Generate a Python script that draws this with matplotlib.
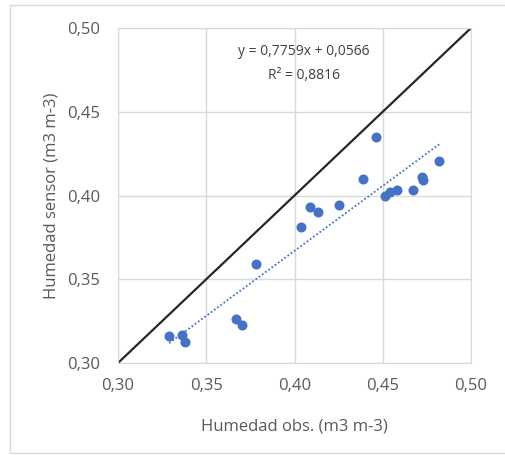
import numpy as np
import matplotlib.pyplot as plt
from matplotlib.patches import Rectangle
from matplotlib.ticker import FuncFormatter

# Observed vs sensor soil moisture (m3 m-3)
hum_obs = [0.329, 0.336, 0.338, 0.367, 0.370, 0.378, 0.4035, 0.409, 0.4135,
           0.425, 0.439, 0.446, 0.451, 0.454, 0.458, 0.467, 0.472, 0.473, 0.482]
hum_sensor = [0.316, 0.317, 0.3125, 0.326, 0.3225, 0.359, 0.381, 0.393, 0.390,
              0.3945, 0.410, 0.435, 0.400, 0.402, 0.403, 0.403, 0.411, 0.409, 0.4205]

# Trend line coefficients shown on the chart
slope = 0.7759
intercept = 0.0566
r2 = 0.8816

ticks = [0.30, 0.35, 0.40, 0.45, 0.50]

plt.rcParams['font.family'] = ['Open Sans', 'DejaVu Sans']

fig = plt.figure(figsize=(5.05, 4.55), dpi=100)
ax = fig.add_axes([118 / 505, 1 - 363 / 455, 353 / 505, 335 / 455])

# light frame around the chart (right edge runs off the picture)
fig.patches.append(Rectangle((10 / 505, 2 / 455), 510 / 505, 448 / 455,
                             transform=fig.transFigure, fill=False,
                             edgecolor='#d9d9d9', linewidth=1))

grid_col = '#d9d9d9'
text_col = '#595959'

ax.set_xlim(0.30, 0.50)
ax.set_ylim(0.30, 0.50)
ax.set_xticks(ticks)
ax.set_yticks(ticks)
fmt = FuncFormatter(lambda v, p: f"{v:.2f}".replace('.', ','))
ax.xaxis.set_major_formatter(fmt)
ax.yaxis.set_major_formatter(fmt)
ax.grid(True, color=grid_col, linewidth=1)
ax.set_axisbelow(True)
for s in ax.spines.values():
    s.set_color(grid_col)
ax.tick_params(axis='y', length=0, labelsize=12, colors=text_col, pad=13)
ax.tick_params(axis='x', length=0, labelsize=12, colors=text_col, pad=11)

# 1:1 line
ax.plot([0.30, 0.50], [0.30, 0.50], color='#262626', linewidth=1.6, zorder=2)

# linear trend over the data range
xt = np.array([min(hum_obs), max(hum_obs)])
ax.plot(xt, slope * xt + intercept, linestyle=(0, (1, 1.2)), color='#4472c4',
        linewidth=1.3, zorder=2)

ax.scatter(hum_obs, hum_sensor, s=52, color='#4472c4', zorder=3, linewidths=0)

ax.text(0.4055, 0.4857, "y = 0,7759x + 0,0566", ha='center', va='center',
        fontsize=10, color='#404040')
ax.text(0.4055, 0.4719, "R² = 0,8816", ha='center', va='center',
        fontsize=10, color='#404040')

ax.set_xlabel("Humedad obs. (m3 m-3)", fontsize=12, color=text_col)
ax.set_ylabel("Humedad sensor (m3 m-3)", fontsize=12, color=text_col)
ax.xaxis.set_label_coords(0.5, -0.167)
ax.yaxis.set_label_coords(-0.167, 0.5)

fig.savefig("out.png", dpi=100)
